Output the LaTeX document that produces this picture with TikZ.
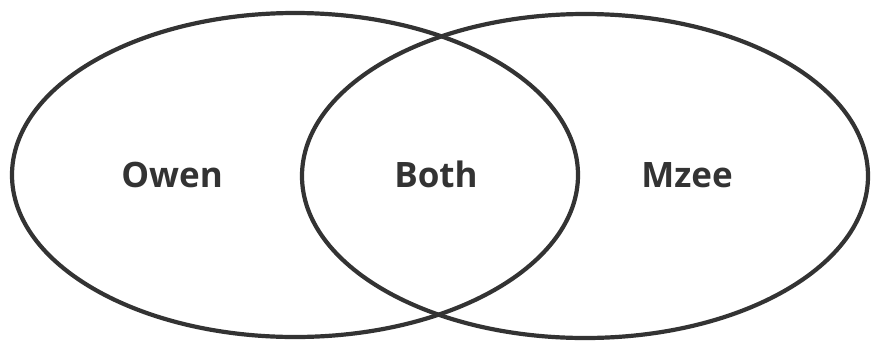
\documentclass[tikz,border=0pt]{standalone}
\usepackage{fontspec}
\setmainfont{Open Sans}
\usetikzlibrary{shapes.geometric}
\definecolor{inkgray}{HTML}{333333}
\begin{document}
\begin{tikzpicture}[x=1pt, y=-1pt,
  setring/.style={draw=inkgray, line width=4.2pt, ellipse, inner sep=0pt,
    minimum width=566pt, minimum height=324pt},
  setname/.style={text=inkgray, anchor=base, inner sep=0pt,
    font=\fontsize{35}{40}\selectfont\bfseries}]
  \useasboundingbox (0,0) rectangle (875,341);
  \node[setring] (owenset) at (295,175) {};
  \node[setring] (mzeeset) at (585,176) {};
  \node[setname] (owen) at (172,187) {Owen};
  \node[setname] (both) at (436,187) {Both};
  \node[setname] (mzee) at (687,187) {Mzee};
\end{tikzpicture}
\end{document}
